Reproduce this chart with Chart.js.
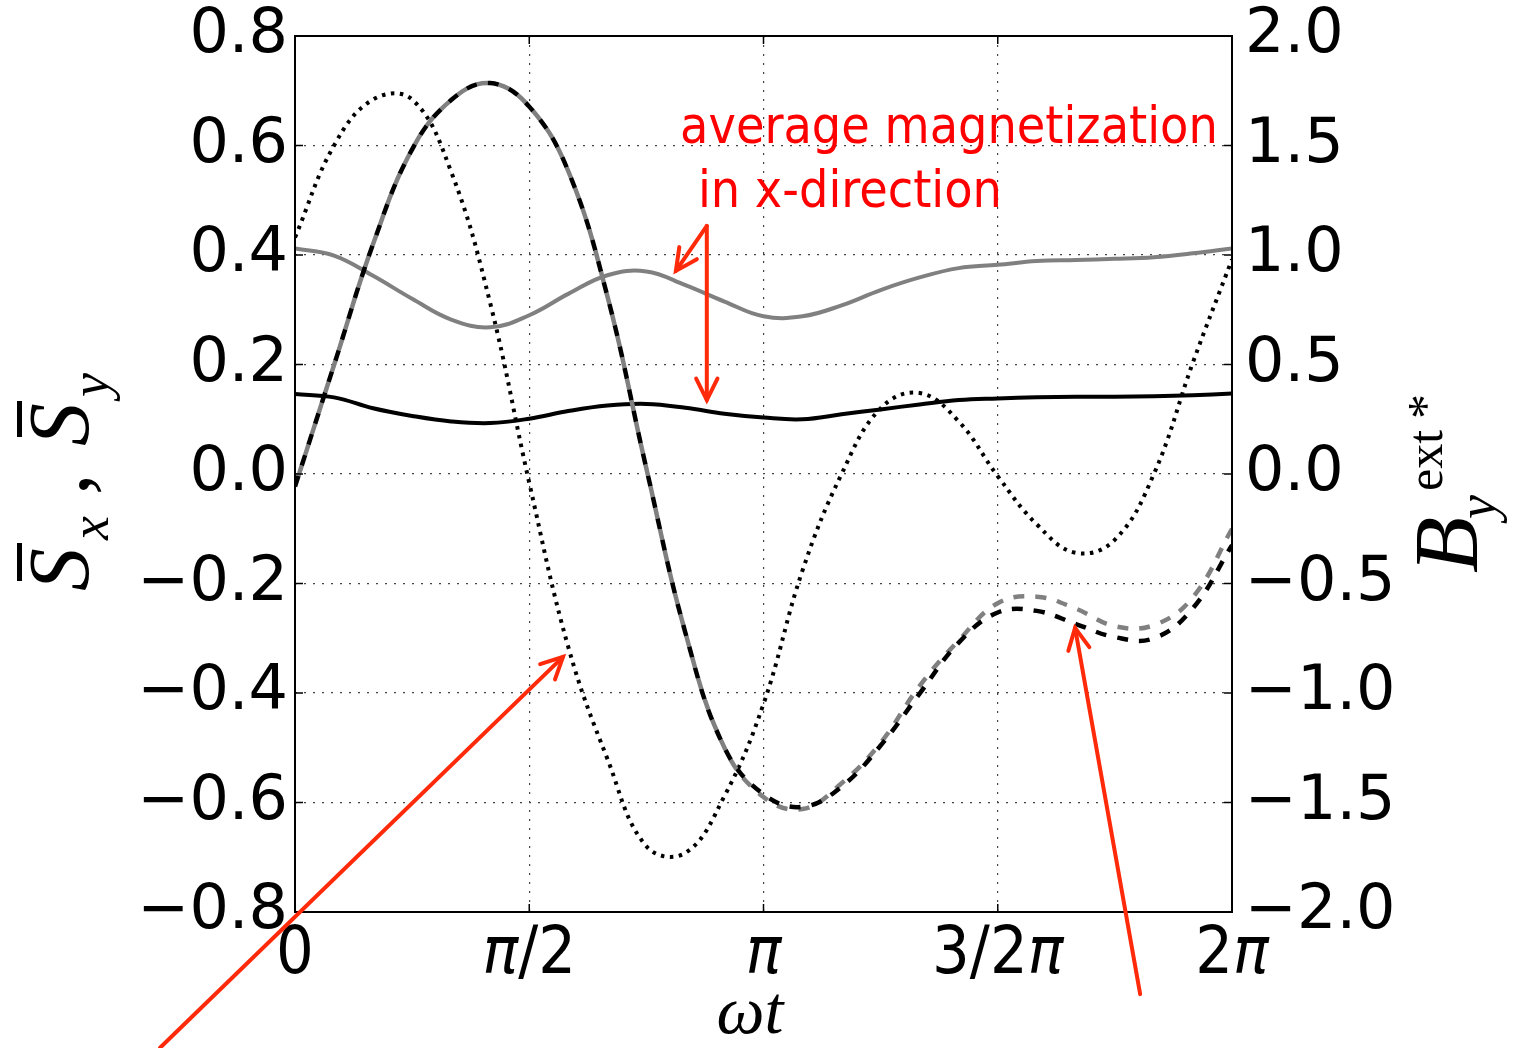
<!DOCTYPE html>
<html>
<head>
<meta charset="utf-8">
<script src="https://cdn.jsdelivr.net/npm/chart.js@4.4.1/dist/chart.umd.min.js"></script>
<style>
  body { margin: 0; background: #fff; }
  canvas { display: block; }
</style>
</head>
<body>
<canvas id="chart" width="1513" height="1048"></canvas>
<script>
// omega*t, in units of pi
const wt = [0, 0.0833, 0.1667, 0.25, 0.3333, 0.4167, 0.5, 0.5833, 0.6667, 0.75, 0.8333, 0.9167,
            1, 1.0833, 1.1667, 1.25, 1.3333, 1.4167, 1.5, 1.5833, 1.6667, 1.75, 1.8333, 1.9167, 2];

// average magnetization (left axis)
const sxGray  = [0.412, 0.399, 0.362, 0.320, 0.282, 0.268, 0.290, 0.329, 0.363, 0.370, 0.345, 0.315,
                 0.288, 0.288, 0.308, 0.336, 0.359, 0.376, 0.382, 0.389, 0.391, 0.393, 0.396, 0.403, 0.412];
const sxBlack = [0.146, 0.140, 0.120, 0.106, 0.096, 0.093, 0.101, 0.115, 0.125, 0.128, 0.121, 0.110,
                 0.103, 0.100, 0.109, 0.118, 0.127, 0.135, 0.138, 0.140, 0.141, 0.141, 0.142, 0.144, 0.147];
const syBlack = [-0.023, 0.199, 0.420, 0.593, 0.683, 0.714, 0.671, 0.553, 0.325, 0.010, -0.290, -0.500,
                 -0.585, -0.608, -0.571, -0.496, -0.401, -0.308, -0.253, -0.250, -0.274, -0.298, -0.300, -0.245, -0.130];
const syGray  = [-0.023, 0.199, 0.420, 0.593, 0.683, 0.714, 0.671, 0.553, 0.325, 0.010, -0.290, -0.500,
                 -0.590, -0.612, -0.565, -0.491, -0.387, -0.304, -0.236, -0.224, -0.246, -0.278, -0.276, -0.225, -0.100];
// external field (right axis)
const byExt   = [1.08, 1.50, 1.71, 1.71, 1.38, 0.78, -0.04, -0.79, -1.30, -1.70, -1.73, -1.47,
                 -1.05, -0.44, 0.00, 0.30, 0.37, 0.24, -0.01, -0.23, -0.36, -0.30, 0.00, 0.51, 0.98];

const xTicks = [0, 0.5, 1, 1.5, 2];
const xTickLabels = ['0', 'π/2', 'π', '3/2π', '2π'];
const yTicks = [-0.8, -0.6, -0.4, -0.2, 0, 0.2, 0.4, 0.6, 0.8];
const yTickLabels = ['−0.8', '−0.6', '−0.4', '−0.2', '0.0', '0.2', '0.4', '0.6', '0.8'];
const y2Ticks = [-2, -1.5, -1, -0.5, 0, 0.5, 1, 1.5, 2];
const y2TickLabels = ['−2.0', '−1.5', '−1.0', '−0.5', '0.0', '0.5', '1.0', '1.5', '2.0'];

// red annotations, in data units (x in pi, y on left axis)
const notes = [
  { text: 'average magnetization', x: 0.822, y: 0.605 },
  { text: 'in x-direction', x: 0.860, y: 0.488 }
];
const arrows = [
  { x1: 0.879, y1: 0.453, x2: 0.813, y2: 0.371 },
  { x1: 0.879, y1: 0.453, x2: 0.879, y2: 0.135 },
  { x1: -0.288, y1: -1.048, x2: 0.572, y2: -0.334 },
  { x1: 1.804, y1: -0.950, x2: 1.665, y2: -0.281 }
];

const pts = ys => wt.map((t, i) => ({ x: t, y: ys[i] }));

function arrow(ctx, x1, y1, x2, y2) {
  ctx.beginPath(); ctx.moveTo(x1, y1); ctx.lineTo(x2, y2); ctx.stroke();
  const a = Math.atan2(y2 - y1, x2 - x1), L = 24, h = 0.46;
  ctx.beginPath();
  ctx.moveTo(x2 - L * Math.cos(a - h), y2 - L * Math.sin(a - h));
  ctx.lineTo(x2, y2);
  ctx.lineTo(x2 - L * Math.cos(a + h), y2 - L * Math.sin(a + h));
  ctx.stroke();
}

// tick label with an italic pi
function piLabel(ctx, label, cx, base) {
  const up = '66px "DejaVu Sans Condensed", "DejaVu Sans"';
  const it = 'italic 66px "DejaVu Sans Condensed", "DejaVu Sans"';
  const parts = label.split(/(π)/).filter(s => s);
  let w = 0;
  parts.forEach(p => { ctx.font = p === 'π' ? it : up; w += ctx.measureText(p).width; });
  let x = cx - w / 2;
  parts.forEach(p => {
    ctx.font = p === 'π' ? it : up;
    ctx.fillText(p, x, base);
    x += ctx.measureText(p).width;
  });
}

const decor = {
  id: 'decor',
  afterDraw(chart) {
    const ctx = chart.ctx, a = chart.chartArea;
    const sx = chart.scales.x, sy = chart.scales.y;
    ctx.save();
    // frame and inward ticks
    ctx.strokeStyle = '#000';
    ctx.lineWidth = 2;
    ctx.strokeRect(a.left, a.top, a.right - a.left, a.bottom - a.top);
    ctx.lineWidth = 1.5;
    ctx.beginPath();
    yTicks.forEach(v => {
      const p = sy.getPixelForValue(v);
      ctx.moveTo(a.left, p); ctx.lineTo(a.left + 8, p);
      ctx.moveTo(a.right, p); ctx.lineTo(a.right - 8, p);
    });
    xTicks.forEach(v => {
      const p = sx.getPixelForValue(v);
      ctx.moveTo(p, a.bottom); ctx.lineTo(p, a.bottom - 8);
      ctx.moveTo(p, a.top); ctx.lineTo(p, a.top + 8);
    });
    ctx.stroke();

    ctx.fillStyle = '#000';
    ctx.textBaseline = 'alphabetic';
    ctx.textAlign = 'left';

    // x tick labels
    xTicks.forEach((v, i) => piLabel(ctx, xTickLabels[i], sx.getPixelForValue(v), a.bottom + 61));

    // axis titles
    const big = 'italic 86px "Liberation Serif"', sub = 'italic 54px "Liberation Serif"';

    // left: S̄x , S̄y
    ctx.save();
    ctx.translate(88, 593);
    ctx.rotate(-Math.PI / 2);
    ctx.font = big;
    ctx.fillText('S', 2, 0);
    ctx.fillRect(12, -71, 38, 5);
    ctx.font = sub;
    ctx.fillText('x', 53, 20);
    ctx.font = '86px "Liberation Serif"';
    ctx.fillText(',', 98, 0);
    ctx.font = big;
    ctx.fillText('S', 147, 0);
    ctx.fillRect(156, -71, 36, 5);
    ctx.font = sub;
    ctx.fillText('y', 196, 20);
    ctx.restore();

    // right: B_y^ext*
    ctx.save();
    ctx.translate(1477, 573);
    ctx.rotate(-Math.PI / 2);
    ctx.font = 'italic 92px "Liberation Serif"';
    ctx.fillText('B', 0, 0);
    ctx.font = sub;
    ctx.fillText('y', 54, 18);
    ctx.font = '50px "Liberation Serif"';
    ctx.fillText('ext', 82, -35);
    ctx.fillText('*', 154, -35);
    ctx.restore();

    // bottom: ωt
    ctx.font = 'italic 68px "Liberation Serif"';
    ctx.textAlign = 'center';
    ctx.fillText('ωt', 750, 1033);

    // red notes
    ctx.fillStyle = '#ff0000';
    ctx.textAlign = 'left';
    ctx.font = '51.5px "DejaVu Sans Condensed", "DejaVu Sans"';
    notes.forEach(n => ctx.fillText(n.text, sx.getPixelForValue(n.x), sy.getPixelForValue(n.y)));
    ctx.strokeStyle = '#ff2a0a';
    ctx.lineWidth = 4;
    ctx.lineCap = 'round';
    arrows.forEach(r => arrow(ctx,
      sx.getPixelForValue(r.x1), sy.getPixelForValue(r.y1),
      sx.getPixelForValue(r.x2), sy.getPixelForValue(r.y2)));
    ctx.restore();
  }
};

const tickFont = { family: '"DejaVu Sans"', size: 62, lineHeight: 1 };
const noPad = s => { s.paddingTop = 0; s.paddingBottom = 0; };

new Chart(document.getElementById('chart'), {
  type: 'line',
  data: {
    datasets: [
      { data: pts(syBlack), borderColor: '#000', borderWidth: 4.5, borderDash: [11, 11], order: 1 },
      { data: pts(syGray), borderColor: '#808080', borderWidth: 4.5, borderDash: [11, 11], borderDashOffset: 11, order: 2 },
      { data: pts(byExt), yAxisID: 'y2', borderColor: '#000', borderWidth: 4, borderDash: [3.5, 5.5], order: 3 },
      { data: pts(sxGray), borderColor: '#808080', borderWidth: 4, order: 4 },
      { data: pts(sxBlack), borderColor: '#000', borderWidth: 4, order: 5 }
    ]
  },
  options: {
    responsive: false,
    animation: false,
    devicePixelRatio: 1,
    layout: { padding: { top: 36 } },
    elements: { point: { radius: 0 }, line: { tension: 0.4, fill: false, borderCapStyle: 'butt' } },
    plugins: { legend: { display: false }, tooltip: { enabled: false } },
    scales: {
      x: {
        type: 'linear', min: 0, max: 2,
        afterBuildTicks: s => { s.ticks = xTicks.map(v => ({ value: v })); },
        afterFit: s => { s.height = 136; s.paddingLeft = 0; s.paddingRight = 0; },
        ticks: { display: false },
        grid: { color: '#444', lineWidth: 1.2, drawTicks: false },
        border: { display: false, dash: [2, 7] }
      },
      y: {
        position: 'left', min: -0.8, max: 0.8,
        afterBuildTicks: s => { s.ticks = yTicks.map(v => ({ value: v })); },
        afterFit: s => { s.width = 295; noPad(s); },
        ticks: { callback: (v, i) => yTickLabels[i], font: tickFont, color: '#000', padding: 7 },
        grid: { color: '#444', lineWidth: 1.2, drawTicks: false },
        border: { display: false, dash: [2, 7] }
      },
      y2: {
        position: 'right', min: -2, max: 2,
        afterBuildTicks: s => { s.ticks = y2Ticks.map(v => ({ value: v })); },
        afterFit: s => { s.width = 281; noPad(s); },
        ticks: { callback: (v, i) => y2TickLabels[i], font: tickFont, color: '#000', padding: 13 },
        grid: { display: false, drawTicks: false },
        border: { display: false }
      }
    }
  },
  plugins: [decor]
});
</script>
</body>
</html>
